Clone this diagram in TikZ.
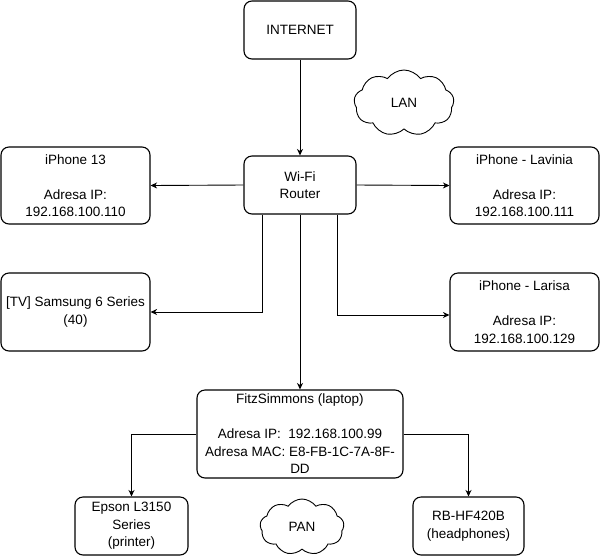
\documentclass[tikz,border=0pt]{standalone}
\usepackage{fontspec}
\setmainfont{Liberation Sans}
\usetikzlibrary{shapes.symbols,arrows.meta}
\begin{document}
\begin{tikzpicture}[x=1pt,y=-1pt,
  box/.style={draw=black,line width=1.1pt,rounded corners=8pt,fill=white,align=center,inner sep=0pt,
    font=\fontsize{13.5}{17.5}\selectfont,text=black},
  cloudbox/.style={cloud,cloud puffs=9,cloud puff arc=110,draw=black,line width=0.9pt,fill=white,
    inner sep=0pt,font=\fontsize{13.5}{17.5}\selectfont},
  conn/.style={draw=black,line width=0.9pt,-{Stealth[length=6.5pt,width=6pt,inset=2pt]}},
  plain/.style={draw=black,line width=0.9pt}]
\useasboundingbox (0,0) rectangle (600,558);
\node[box,minimum width=112pt,minimum height=58pt] (internet) at (300,30) {INTERNET};
\node[cloudbox,minimum width=100pt,minimum height=66pt] (lan) at (404,103) {LAN};
\node[box,minimum width=112pt,minimum height=58pt] (router) at (300,185) {Wi-Fi\\Router};
\node[box,minimum width=149pt,minimum height=77pt] (iph13) at (75.5,185.5) {iPhone 13\\[17.5pt]Adresa IP:\\192.168.100.110};
\node[box,minimum width=149pt,minimum height=77pt] (lavinia) at (524.5,185.5) {iPhone - Lavinia\\[17.5pt]Adresa IP:\\192.168.100.111};
\node[box,minimum width=149pt,minimum height=78pt] (tv) at (75.5,312) {[TV] Samsung 6 Series\\(40)};
\node[box,minimum width=149pt,minimum height=78pt] (larisa) at (524.5,312) {iPhone - Larisa\\[17.5pt]Adresa IP:\\192.168.100.129};
\node[box,minimum width=206pt,minimum height=88pt] (laptop) at (300,434) {FitzSimmons (laptop)\\[17.5pt]Adresa IP:\ \ 192.168.100.99\\Adresa MAC:\ E8-FB-1C-7A-8F-\\DD};
\node[box,minimum width=113pt,minimum height=58pt] (printer) at (131.5,526) {Epson L3150\\Series\\(printer)};
\node[box,minimum width=111pt,minimum height=58pt] (phones) at (468.5,526) {RB-HF420B\\(headphones)};
\node[cloudbox,minimum width=84pt,minimum height=56pt] (pan) at (302,527) {PAN};
\draw[conn] (internet.south) -- (router.north);
\draw[conn] (router.west) -- (iph13.east);
\draw[conn] (router.east) -- (lavinia.west);
\draw[conn] ([xshift=-38pt]router.south) |- (tv.east);
\draw[conn] ([xshift=37pt]router.south) |- ([yshift=-3pt]larisa.west);
\draw[conn] (router.south) -- (laptop.north);
\draw[conn] (laptop.west) -| (printer.north);
\draw[conn] (laptop.east) -| (phones.north);
\end{tikzpicture}
\end{document}
